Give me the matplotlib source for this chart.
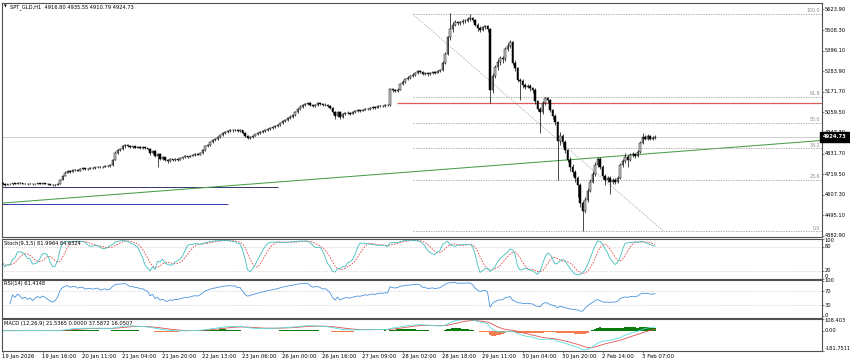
import numpy as np
import pandas as pd
import matplotlib
matplotlib.use('Agg')
import matplotlib.pyplot as plt

W, H = 850, 364
X0, X1 = 2, 821.5          # left / right edge of the chart panels (px)
BAR_PX = 2.5               # pixels per H1 bar
FRAME = '#505050'

plt.rcParams['font.family'] = ['DejaVu Sans']
plt.rcParams['font.size'] = 3.7

# ---------------- data (SPT_GLD, H1) ----------------
first_open = 4672
closes = [
    4668, 4662, 4666, 4664, 4670, 4668, 4672, 4670, 4667, 4669, 4666, 4668, 4664, 4667, 4670, 4668, 4671, 4669, 4666, 4663, 4660, 4662,
    4668, 4690, 4712, 4728,
    4738, 4733, 4742, 4745, 4740, 4748, 4752, 4746, 4750, 4755, 4752, 4758, 4762, 4757, 4760, 4766, 4763, 4770,
    4800, 4838, 4852,
    4860, 4872, 4880, 4874, 4868, 4872, 4866, 4870, 4864, 4868, 4862, 4858,
    4835, 4848, 4820, 4830, 4805, 4812, 4798,
    4790, 4802, 4796, 4805, 4800, 4808,
    4812, 4818, 4815, 4822, 4826, 4830, 4828, 4836,
    4850, 4872, 4880,
    4895, 4905, 4915, 4922, 4935, 4945, 4952, 4958, 4962, 4960, 4965, 4958, 4962,
    4948, 4930, 4920, 4925,
    4932, 4938, 4945, 4950, 4955, 4960, 4968, 4972, 4978, 4985,
    4990, 5000, 5010, 5018, 5028, 5035, 5045, 5060, 5075, 5090,
    5098, 5105, 5110, 5102, 5095, 5100, 5108, 5104, 5098, 5102, 5096, 5085,
    5060, 5040, 5062, 5035, 5048, 5055,
    5058, 5052, 5060, 5066, 5070, 5068, 5074, 5080, 5078, 5084, 5088, 5085, 5092, 5096, 5094, 5100, 5098,
    5185, 5180, 5178, 5184,
    5215, 5228,
    5240, 5250, 5258, 5265, 5275, 5285,
    5282, 5270, 5275, 5268,
    5272, 5280, 5276, 5285, 5290,
    5330, 5380,
    5470, 5515,
    5540, 5555, 5548, 5552, 5558,
    5562, 5570, 5575, 5565,
    5540, 5522, 5512,
    5525, 5530, 5518,
    5180,
    5260, 5305,
    5335, 5355, 5350,
    5405, 5420, 5445,
    5330, 5300,
    5235, 5230,
    5210, 5200, 5205, 5190, 5182,
    5120, 5080, 5060,
    5110, 5135, 5125,
    5070, 5040, 5005,
    4900,
    4930, 4895,
    4850, 4800, 4760,
    4730, 4700, 4660,
    4560, 4520,
    4580, 4630,
    4680, 4720,
    4770, 4805,
    4760, 4710, 4690,
    4700, 4675, 4690, 4680, 4700,
    4770, 4790,
    4815, 4800, 4825,
    4830, 4818, 4840,
    4890, 4925,
    4915, 4930, 4912, 4916.80, 4924.73,
]
highs = [
    4676, 4671, 4669, 4669, 4674, 4673, 4676, 4675, 4672, 4672,
    4671, 4671, 4670, 4669, 4673, 4672, 4674, 4673, 4671, 4668,
    4665, 4666, 4672, 4694, 4716, 4735, 4744, 4741, 4746, 4750,
    4748, 4752, 4757, 4755, 4754, 4759, 4758, 4762, 4767, 4765,
    4764, 4770, 4769, 4774, 4806, 4845, 4858, 4866, 4878, 4888,
    4884, 4878, 4877, 4876, 4875, 4873, 4872, 4871, 4866, 4862,
    4855, 4852, 4838, 4835, 4820, 4816, 4804, 4808, 4806, 4810,
    4809, 4813, 4817, 4823, 4822, 4827, 4831, 4835, 4834, 4842,
    4856, 4878, 4887, 4900, 4911, 4920, 4928, 4940, 4950, 4958,
    4964, 4968, 4967, 4970, 4968, 4967, 4965, 4952, 4935, 4930,
    4937, 4943, 4950, 4955, 4960, 4966, 4973, 4978, 4984, 4990,
    4996, 5006, 5018, 5025, 5034, 5042, 5052, 5066, 5082, 5097,
    5105, 5112, 5118, 5114, 5106, 5106, 5114, 5112, 5108, 5108,
    5106, 5099, 5088, 5066, 5068, 5066, 5055, 5061, 5064, 5062,
    5066, 5071, 5076, 5074, 5079, 5085, 5084, 5090, 5094, 5092,
    5097, 5102, 5100, 5106, 5105, 5192, 5192, 5186, 5190, 5222,
    5236, 5247, 5257, 5265, 5272, 5282, 5292, 5290, 5286, 5281,
    5280, 5278, 5286, 5284, 5291, 5298, 5338, 5390, 5480, 5603,
    5552, 5565, 5562, 5560, 5568, 5572, 5580, 5598, 5582, 5570,
    5548, 5530, 5535, 5540, 5538, 5522, 5275, 5318, 5350, 5368,
    5370, 5415, 5438, 5458, 5450, 5345, 5310, 5245, 5240, 5222,
    5215, 5212, 5198, 5190, 5128, 5090, 5120, 5145, 5142, 5130,
    5080, 5048, 5010, 4950, 4940, 4905, 4860, 4815, 4775, 4742,
    4710, 4670, 4575, 4595, 4645, 4692, 4735, 4785, 4815, 4812,
    4770, 4722, 4712, 4708, 4700, 4698, 4712, 4780, 4805, 4835,
    4825, 4838, 4842, 4838, 4850, 4900, 4946, 4935, 4940, 4935,
    4928, 4935.55,
]
lows = [
    4663, 4658, 4660, 4660, 4662, 4665, 4666, 4667, 4664, 4665,
    4663, 4664, 4661, 4662, 4665, 4665, 4666, 4666, 4663, 4659,
    4655, 4657, 4659, 4666, 4686, 4708, 4724, 4728, 4730, 4738,
    4735, 4737, 4745, 4742, 4743, 4747, 4748, 4749, 4755, 4753,
    4754, 4757, 4759, 4760, 4767, 4796, 4832, 4846, 4855, 4866,
    4868, 4862, 4863, 4861, 4862, 4858, 4860, 4857, 4850, 4826,
    4830, 4812, 4762, 4798, 4796, 4790, 4782, 4786, 4790, 4792,
    4794, 4797, 4803, 4808, 4810, 4812, 4818, 4822, 4823, 4825,
    4832, 4846, 4868, 4876, 4890, 4900, 4910, 4918, 4930, 4940,
    4947, 4953, 4954, 4955, 4952, 4953, 4942, 4924, 4912, 4915,
    4920, 4927, 4934, 4940, 4945, 4950, 4955, 4962, 4967, 4973,
    4980, 4985, 4995, 5004, 5012, 5022, 5030, 5040, 5055, 5070,
    5085, 5092, 5100, 5096, 5088, 5090, 5095, 5098, 5092, 5094,
    5090, 5078, 5052, 5025, 5034, 5020, 5028, 5042, 5049, 5046,
    5048, 5055, 5061, 5062, 5064, 5070, 5073, 5074, 5080, 5079,
    5081, 5088, 5089, 5090, 5092, 5095, 5172, 5170, 5172, 5180,
    5210, 5222, 5234, 5244, 5252, 5260, 5270, 5275, 5262, 5264,
    5260, 5262, 5267, 5270, 5272, 5280, 5286, 5325, 5375, 5455,
    5500, 5532, 5538, 5540, 5545, 5550, 5555, 5562, 5555, 5532,
    5505, 5498, 5505, 5515, 5500, 5110, 5165, 5245, 5290, 5320,
    5332, 5342, 5395, 5410, 5320, 5285, 5225, 5128, 5195, 5185,
    5190, 5175, 5165, 5105, 5065, 4946, 5050, 5100, 5108, 5060,
    5025, 4990, 4690, 4880, 4870, 4835, 4785, 4740, 4712, 4680,
    4595, 4540, 4408, 4505, 4565, 4620, 4670, 4710, 4760, 4748,
    4695, 4660, 4675, 4610, 4665, 4668, 4672, 4695, 4760, 4780,
    4760, 4792, 4815, 4808, 4812, 4835, 4885, 4905, 4908, 4905,
    4906, 4910.79,
]

price_ticks = [5623.90, 5508.30, 5396.10, 5283.90, 5171.70, 5059.50, 4947.30,
               4831.70, 4719.50, 4607.30, 4495.10, 4382.90]
time_labels = ['19 Jan 2026', '19 Jan 16:00', '20 Jan 11:00', '21 Jan 04:00',
               '21 Jan 20:00', '22 Jan 13:00', '23 Jan 06:00', '26 Jan 00:00',
               '26 Jan 16:00', '27 Jan 09:00', '28 Jan 02:00', '28 Jan 18:00',
               '29 Jan 11:00', '30 Jan 04:00', '30 Jan 20:00', '2 Feb 14:00',
               '3 Feb 07:00']
bars_per_label = 16

last_price = 4924.73
fib_high, fib_low = 5598.0, 4408.0
fib_levels = [0.0, 23.6, 38.2, 50.0, 61.8, 100.0]
fib_t1, fib_t2 = 164, 264.4
trend_a, trend_b = (0, 4562), (261, 4835)
red_level, red_start = 5112, 157.6
blue_lines = [(4650, 110, '#34346e'), (4555, 90, '#3a3ab4')]   # price, last bar, colour

title = 'SPT_GLD,H1  4916.80 4935.55 4910.79 4924.73'
stoch_txt = 'Stoch(9,3,5) 81.9964 84.6324'
rsi_txt = 'RSI(14) 61.4148'
macd_txt = 'MACD (12,26,9) 21.5365 0.0000 37.5872 16.0507'

# ---------------- indicators ----------------
c = pd.Series(closes, dtype=float)
h = pd.Series(highs, dtype=float)
l = pd.Series(lows, dtype=float)
o = pd.Series([first_open] + closes[:-1], dtype=float)

ll = l.rolling(9, min_periods=1).min()
hh = h.rolling(9, min_periods=1).max()
stoch_k = 100 * (c - ll).rolling(3, min_periods=1).sum() / (hh - ll).rolling(3, min_periods=1).sum()
stoch_d = stoch_k.rolling(5, min_periods=1).mean()

delta = c.diff().fillna(0)
gain = delta.clip(lower=0).ewm(alpha=1/14, adjust=True).mean()
loss = (-delta.clip(upper=0)).ewm(alpha=1/14, adjust=True).mean()
rsi = (100 * gain / (gain + loss)).fillna(50)
rsi.iloc[:3] = np.nan      # too few bars for a meaningful value

macd = c.ewm(span=12, adjust=False).mean() - c.ewm(span=26, adjust=False).mean()
signal = macd.ewm(span=9, adjust=False).mean()
hist = macd - signal

# ---------------- figure ----------------
XMIN = -0.2
XMAX = XMIN + (X1 - X0) / BAR_PX
fig = plt.figure(figsize=(W / 100, H / 100), dpi=100)
fig.patch.set_facecolor('white')


def add_panel(top, bottom, ylim):
    ax = fig.add_axes([X0 / W, 1 - bottom / H, (X1 - X0) / W, (bottom - top) / H])
    for s in ax.spines.values():
        s.set_color(FRAME)
        s.set_linewidth(0.8)
    ax.set_xlim(XMIN, XMAX)
    ax.set_ylim(*ylim)
    ax.set_xticks([])
    ax.yaxis.tick_right()
    ax.tick_params(axis='y', length=1.5, width=0.5, color=FRAME, labelright=False)
    return ax


def right_labels(ax, vals, texts, vas=None):
    ax.set_yticks(vals)
    for i, (v, t) in enumerate(zip(vals, texts)):
        va = vas[i] if vas else 'center'
        ax.text(1.004, v, t, transform=ax.get_yaxis_transform(), ha='left',
                va=va, fontsize=3.7, color='black')


def levels(ax, vals):
    for v in vals:
        ax.axhline(v, color='#c4c4c4', lw=0.5, ls=(0, (1.2, 1.6)), zorder=0)


# main price panel
ax = add_panel(3, 236.5, (4378.6, 5658.4))
right_labels(ax, price_ticks, ['%.2f' % p for p in price_ticks])

ax.axhline(last_price, color='#c8c8c8', lw=0.6, zorder=0.5)
for price, end, col in blue_lines:
    ax.hlines(price, XMIN, end, color=col, lw=0.7, zorder=1)
ax.axline(trend_a, trend_b, color='#4a9e4a', lw=0.75, zorder=1)
ax.hlines(red_level, red_start, XMAX, color='#e05a5a', lw=0.9, zorder=1)

for lev in fib_levels:
    p = fib_low + (fib_high - fib_low) * lev / 100
    ax.hlines(p, fib_t1, XMAX, color='#9a9a9a', lw=0.6, ls=(0, (1.5, 1.5)), zorder=1)
    ax.text(0.998, p + 3, '%.1f' % lev, transform=ax.get_yaxis_transform(),
            ha='right', va='bottom', fontsize=3.4, color='#8c8c8c')
ax.plot([fib_t1, fib_t2], [fib_high, fib_low], color='#a8a8a8', lw=0.6,
        ls=(0, (1.5, 1.5)), zorder=1)

x = np.arange(len(c))
up = (c >= o).values
body_bottom = np.minimum(o, c).values
body_h = np.maximum((c - o).abs().values, 1.5)
ax.vlines(x, l, h, color='black', lw=0.5, zorder=2)
ax.bar(x[up], body_h[up], bottom=body_bottom[up], width=0.62,
       color='#d2d2d2', edgecolor='black', linewidth=0.35, zorder=3)
ax.bar(x[~up], body_h[~up], bottom=body_bottom[~up], width=0.62,
       color='black', edgecolor='black', linewidth=0.35, zorder=3)

ax.text(1.0012, last_price, '%.2f' % last_price, transform=ax.get_yaxis_transform(),
        ha='left', va='center', fontsize=3.8, color='white', fontweight='bold',
        bbox=dict(boxstyle='square,pad=0.45', facecolor='black', edgecolor='black'),
        zorder=10)

fig.text(4 / W, 1 - 7 / H, '\u25bc', fontsize=2.6, va='center', ha='left')
fig.text(10 / W, 1 - 7 / H, title, va='center', ha='left')

# stochastic
ax_s = add_panel(238.5, 278.5, (0, 100))
levels(ax_s, [20, 80])
ax_s.plot(x, stoch_d, color='#e04848', lw=0.6, ls=(0, (2, 1.5)))
ax_s.plot(x, stoch_k, color='#3fbfbf', lw=0.6)
right_labels(ax_s, [100, 80, 20, 0], ['100', '80', '20', '0'],
             ['top', 'center', 'center', 'bottom'])
fig.text(4 / W, 1 - 243 / H, stoch_txt, va='center', ha='left')

# RSI
ax_r = add_panel(279.5, 317.5, (-5.7, 102.9))
levels(ax_r, [30, 70])
ax_r.plot(x, rsi, color='#4a93dc', lw=0.6)
right_labels(ax_r, [100, 70, 30, 0], ['100', '70', '30', '0'])
fig.text(4 / W, 1 - 284 / H, rsi_txt, va='center', ha='left')

# MACD
ax_m = add_panel(318.5, 351, (-181.7511, 108.403))
ax_m.bar(x, hist, width=1.0, color=np.where(hist >= 0, '#0a7a0a', '#f47a4f'),
         linewidth=0, zorder=1)
ax_m.plot(x, signal, color='#e05050', lw=0.6, zorder=2)
ax_m.plot(x, macd, color='#56dede', lw=0.6, zorder=2)
right_labels(ax_m, [108.403, 0, -181.7511], ['108.403', '0.00', '-181.7511'],
             ['top', 'center', 'bottom'])
fig.text(4 / W, 1 - 323 / H, macd_txt, va='center', ha='left')

ax_m.set_xticks(np.arange(len(time_labels)) * bars_per_label)
ax_m.set_xticklabels(time_labels, ha='left', fontsize=3.9)
ax_m.tick_params(axis='x', length=1.5, width=0.5, color=FRAME, pad=1.0)

fig.savefig('out.png', dpi=100, facecolor='white')
